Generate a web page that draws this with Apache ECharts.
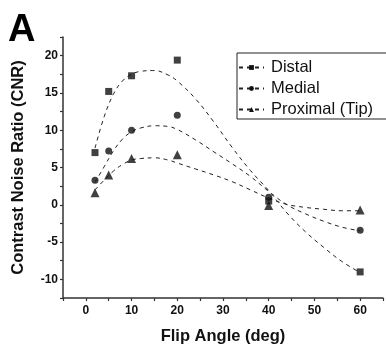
<!DOCTYPE html>
<html>
<head>
<meta charset="utf-8">
<script src="https://cdn.jsdelivr.net/npm/echarts@6/dist/echarts.min.js"></script>
<style>
  html, body { margin: 0; padding: 0; background: #fff; }
  #chart { width: 386px; height: 350px; }
</style>
</head>
<body>
<div id="chart"></div>
<script>
// measured points (flip angle, CNR)
const flipAngles = [2, 5, 10, 20, 40, 60];
const distal = [7.0, 15.2, 17.3, 19.4, 0.5, -9.0];
const medial = [3.3, 7.2, 10.0, 12.0, 1.0, -3.4];
const proximal = [1.6, 4.0, 6.2, 6.7, -0.1, -0.7];

// fitted curves
const fitAngles = [2, 4, 6, 8, 10, 12, 15, 18, 20, 24, 28, 32, 36, 40, 44, 48, 52, 56, 60];
const distalFit = [7.6, 11.8, 14.8, 16.6, 17.5, 17.9, 18.0, 17.4, 16.6, 14.2, 11.1, 7.7, 4.6, 1.9, -1.1, -3.6, -5.7, -7.6, -9.1];
const medialFit = [3.0, 5.1, 7.2, 8.8, 9.8, 10.3, 10.6, 10.5, 10.1, 8.7, 7.1, 5.5, 3.8, 1.8, 0.0, -1.2, -2.2, -3.0, -3.5];
const proximalFit = [2.0, 3.3, 4.5, 5.4, 6.0, 6.2, 6.3, 6.0, 5.6, 4.8, 4.0, 3.1, 2.0, 0.9, 0.05, -0.35, -0.6, -0.8, -0.8];

const seriesNames = ["Distal", "Medial", "Proximal (Tip)"];
const symbols = ["rect", "circle", "triangle"];

const FONT = "Liberation Sans, Arial, sans-serif";
const INK = "#111";

function pairs(xs, ys) {
  return xs.map((x, i) => [x, ys[i]]);
}

const points = [distal, medial, proximal];
const fits = [distalFit, medialFit, proximalFit];

const series = [];
// fit lines first so the legend picks up the dashed icon
seriesNames.forEach((name, i) => {
  series.push({
    name,
    type: "line",
    data: pairs(fitAngles, fits[i]),
    smooth: 0.4,
    symbol: symbols[i],
    symbolSize: 5,
    showSymbol: false,
    itemStyle: { color: INK },
    lineStyle: { color: "#222", width: 1, type: [4, 4] },
    silent: true,
    z: 2,
  });
});
seriesNames.forEach((name, i) => {
  series.push({
    name,
    type: "scatter",
    data: pairs(flipAngles, points[i]),
    symbol: symbols[i],
    symbolSize: i === 2 ? 9 : 7,
    itemStyle: { color: INK },
    z: 3,
  });
});

const axisLine = { show: true, onZero: false, lineStyle: { color: "#333", width: 1.5 } };
const axisTick = { show: true, length: 3, inside: false, lineStyle: { color: "#333", width: 1.2 } };
const tickFont = { fontFamily: FONT, fontSize: 12, fontWeight: "bold", color: "#111" };
const nameFont = { fontFamily: FONT, fontSize: 16.5, fontWeight: "bold", color: "#111" };

const chart = echarts.init(document.getElementById("chart"), null, { renderer: "canvas" });

chart.setOption({
  animation: false,
  backgroundColor: "#fff",
  textStyle: { fontFamily: FONT },
  grid: { left: 63, top: 37, width: 324, height: 267, containLabel: false },
  graphic: [
    {
      type: "text",
      left: 8,
      top: 12,
      style: { text: "A", font: "bold 38px " + FONT, fill: "#000" },
    },
  ],
  legend: {
    data: seriesNames,
    orient: "vertical",
    left: 237,
    top: 53,
    padding: [6, 18, 1, 1],
    itemGap: 4,
    itemWidth: 25,
    itemHeight: 6,
    borderColor: "#222",
    borderWidth: 1,
    selectedMode: false,
    textStyle: { fontFamily: FONT, fontSize: 16.5, color: "#111", lineHeight: 17, padding: [0, 0, 0, 2] },
  },
  xAxis: {
    type: "value",
    min: -5,
    max: 65,
    interval: 5,
    name: "Flip Angle (deg)",
    nameLocation: "middle",
    nameGap: 30,
    nameTextStyle: nameFont,
    axisLine,
    axisTick,
    axisLabel: Object.assign({}, tickFont, {
      margin: 7,
      formatter: (v) => (v >= 0 && v % 10 === 0 ? String(v) : ""),
    }),
    splitLine: { show: false },
  },
  yAxis: {
    type: "value",
    min: -12.5,
    max: 22.5,
    interval: 2.5,
    name: "Contrast Noise Ratio (CNR)",
    nameLocation: "middle",
    nameGap: 36,
    nameTextStyle: nameFont,
    axisLine,
    axisTick,
    axisLabel: Object.assign({}, tickFont, {
      margin: 5,
      formatter: (v) => (Math.abs(v % 5) < 1e-9 ? String(v) : ""),
    }),
    splitLine: { show: false },
  },
  series,
});
</script>
</body>
</html>
